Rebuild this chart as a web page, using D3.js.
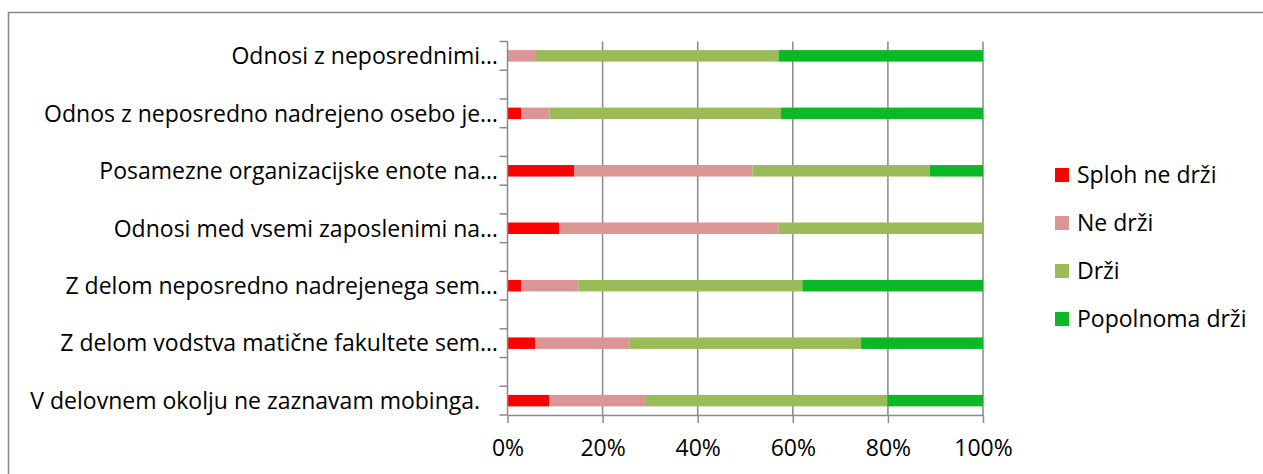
<!DOCTYPE html>
<html>
<head>
<meta charset="utf-8">
<script src="https://cdn.jsdelivr.net/npm/d3@7"></script>
<style>
  body { margin: 0; background: #fff; }
  text { font-family: "Open Sans", Lato, sans-serif; fill: #000; }
</style>
</head>
<body>
<div id="chart"></div>
<script>
// categories top -> bottom
const categories = [
    "Odnosi z neposrednimi…",
    "Odnos z neposredno nadrejeno osebo je…",
    "Posamezne organizacijske enote na…",
    "Odnosi med vsemi zaposlenimi na…",
    "Z delom neposredno nadrejenega sem…",
    "Z delom vodstva matične fakultete sem…",
    "V delovnem okolju ne zaznavam mobinga.   "
];
const seriesNames = ["Sploh ne drži", "Ne drži", "Drži", "Popolnoma drži"];
const splohNe = [0, 2.9, 14.0, 10.9, 2.9, 5.8, 8.8];
const neDrzi = [6.0, 5.9, 37.5, 46.1, 12.0, 19.8, 20.1];
const drzi = [51.0, 48.7, 37.3, 43.0, 47.1, 48.7, 51.0];
const popolnoma = [43.0, 42.5, 11.2, 0, 38.0, 25.7, 20.1];
const ticks = [0, 20, 40, 60, 80, 100];
const colors = ["#ff0000", "#da9694", "#9bbb59", "#0db826"];

const W = 1263, H = 474;
const fs = "23px";
const svg = d3.select("#chart").append("svg")
    .attr("width", W).attr("height", H);

// outer chart frame
svg.append("path")
    .attr("d", `M8.5,${H} V12.5 H${W}`)
    .attr("fill", "none")
    .attr("stroke", "#888")
    .attr("stroke-width", 1.5);

const x = d3.scaleLinear().domain([0, 100]).range([507.5, 983]);

// excel left empty rows between the items, so 13 slots
const slots = d3.range(categories.length * 2 - 1);
const y = d3.scaleBand().domain(slots).range([41.5, 415]).padding(0);

const data = categories.map((c, i) => ({
    cat: c, slot: i * 2,
    vals: [splohNe[i], neDrzi[i], drzi[i], popolnoma[i]]
}));

// gridlines
svg.append("g").selectAll("line")
    .data(ticks.slice(1))
    .join("line")
    .attr("x1", d => x(d)).attr("x2", d => x(d))
    .attr("y1", y.range()[0]).attr("y2", y.range()[1])
    .attr("stroke", "#8a8a8a")
    .attr("stroke-width", 1.5);

// bars
const barH = y.bandwidth() * 0.4;
const rows = svg.append("g").selectAll("g")
    .data(data)
    .join("g");

rows.selectAll("rect")
    .data(d => {
        let acc = 0;
        return d.vals.map((v, k) => {
            const r = { x0: acc, x1: acc + v, k: k, slot: d.slot };
            acc += v;
            return r;
        });
    })
    .join("rect")
    .attr("x", d => x(d.x0))
    .attr("width", d => x(d.x1) - x(d.x0))
    .attr("y", d => y(d.slot) + y.bandwidth() / 2 - barH / 2)
    .attr("height", barH)
    .attr("fill", d => colors[d.k]);

// y axis (ticks on the slot borders, like excel)
const yAxis = svg.append("g");
yAxis.append("line")
    .attr("x1", x(0)).attr("x2", x(0))
    .attr("y1", y.range()[0]).attr("y2", y.range()[1])
    .attr("stroke", "#8a8a8a").attr("stroke-width", 1.5);
yAxis.selectAll(".ytick")
    .data(d3.range(slots.length + 1))
    .join("line")
    .attr("class", "ytick")
    .attr("x1", x(0) - 8).attr("x2", x(0))
    .attr("y1", d => y.range()[0] + d * y.bandwidth())
    .attr("y2", d => y.range()[0] + d * y.bandwidth())
    .attr("stroke", "#8a8a8a").attr("stroke-width", 1.5);

svg.append("g").selectAll("text")
    .data(data)
    .join("text")
    .attr("x", 498)
    .attr("y", d => y(d.slot) + y.bandwidth() / 2)
    .attr("dy", "0.36em")
    .attr("text-anchor", "end")
    .style("font-size", fs)
    .style("white-space", "pre")
    .text(d => d.cat);

// x axis
const xAxis = svg.append("g")
    .attr("transform", `translate(0, ${y.range()[1]})`)
    .call(d3.axisBottom(x).tickValues(ticks).tickSize(8).tickSizeOuter(0).tickFormat(d => d + "%"));
xAxis.select(".domain").attr("stroke", "#8a8a8a").attr("stroke-width", 1.5);
xAxis.selectAll(".tick line").attr("stroke", "#8a8a8a").attr("stroke-width", 1.5);
xAxis.selectAll(".tick text")
    .attr("y", 25)
    .attr("dy", "0.71em")
    .style("font-size", fs)
    .style("font-family", "'Open Sans', Lato, sans-serif");

// legend
const legend = svg.append("g").selectAll("g")
    .data(seriesNames)
    .join("g")
    .attr("transform", (d, i) => `translate(1055, ${175 + i * 48})`);
legend.append("rect")
    .attr("x", 0).attr("y", -7)
    .attr("width", 14).attr("height", 14)
    .attr("fill", (d, i) => colors[i]);
legend.append("text")
    .attr("x", 22)
    .attr("dy", "0.36em")
    .style("font-size", fs)
    .text(d => d);
</script>
</body>
</html>
